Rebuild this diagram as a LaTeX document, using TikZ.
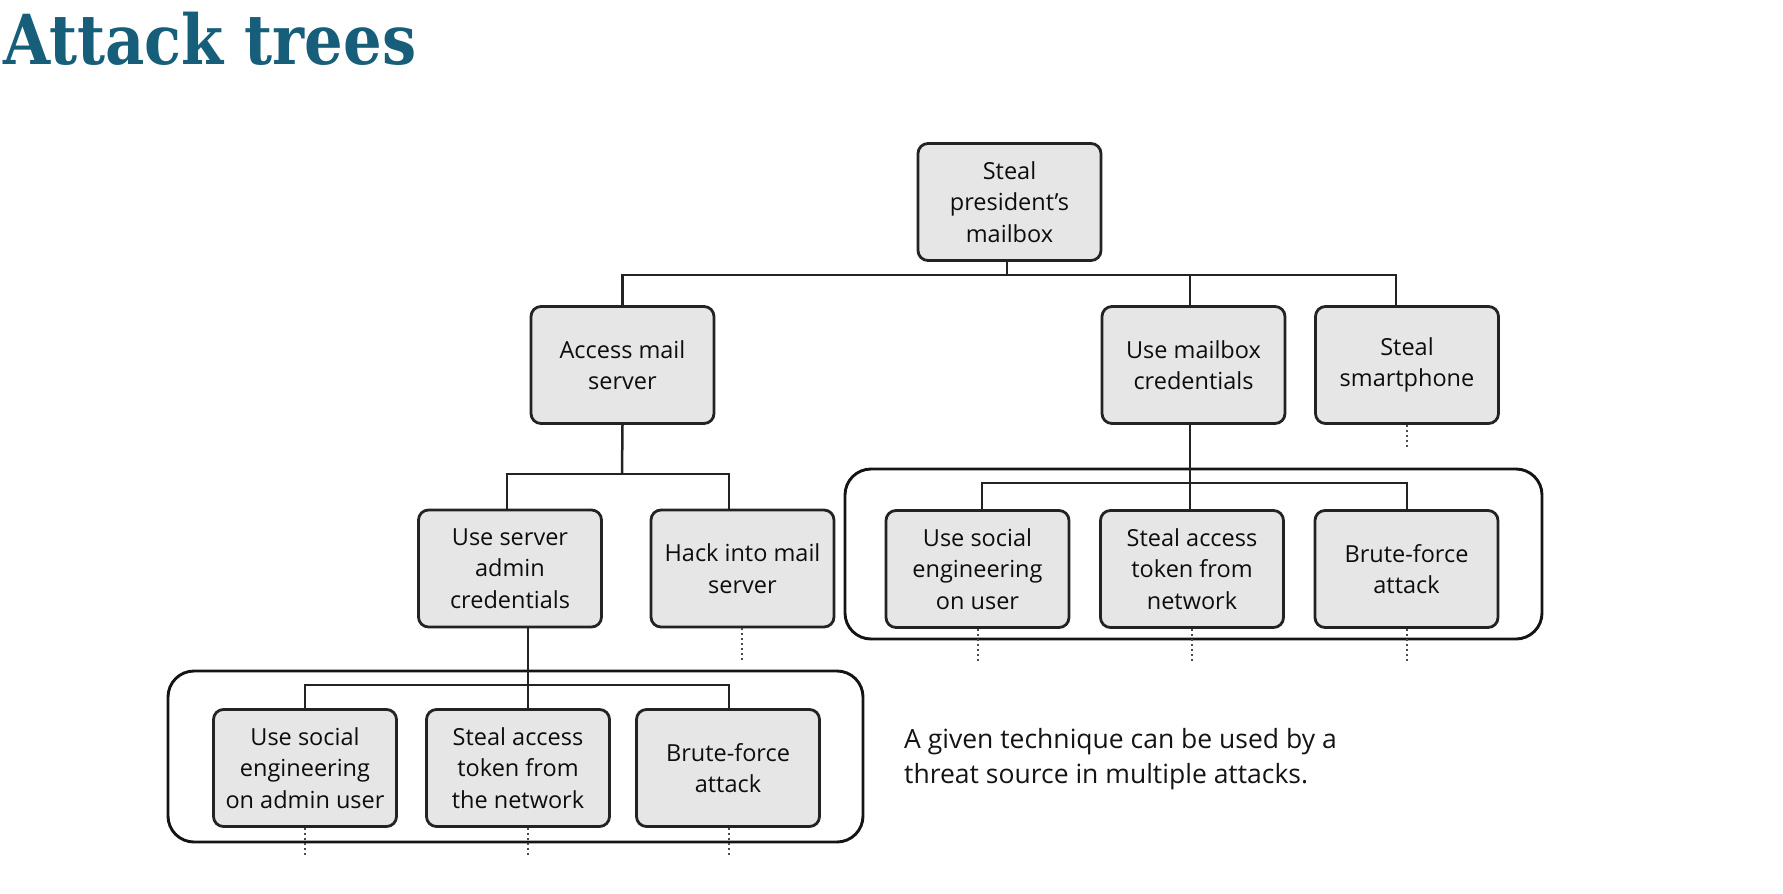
\documentclass[tikz,border=0pt]{standalone}
\usepackage{fontspec}
\setmainfont{Open Sans}
\newfontfamily\titlefont{DejaVu Serif}
\definecolor{titleteal}{RGB}{22,94,122}
\definecolor{boxfill}{RGB}{230,230,231}
\definecolor{ink}{RGB}{35,35,35}
\tikzset{
  tbox/.style={draw=ink, fill=boxfill, line width=2.8pt, rounded corners=10pt,
    minimum width=183pt, minimum height=117pt, inner sep=0pt, align=center,
    font=\fontsize{23.5}{31.5}\selectfont, text=black!95},
  conn/.style={draw=ink, line width=2.5pt},
  grp/.style={draw=black!92, line width=2.9pt, rounded corners=26pt},
  dots/.style={draw=black!70, line width=2.2pt, dash pattern=on 2pt off 3pt},
}
\begin{document}
\begin{tikzpicture}[x=1pt,y=-1pt]
\useasboundingbox[fill=white] (0,0) rectangle (1783,894);

% title
\node[anchor=base west, inner sep=0pt, text=titleteal] (title) at (3,64)
  {\scalebox{0.88}[1]{\titlefont\bfseries\fontsize{69}{80}\selectfont Attack trees}};

% group frames
\draw[grp] (168,671) rectangle (863,842);
\draw[grp] (845,469) rectangle (1542,639);

% nodes
\node[tbox] (root) at (1009.5,202) {Steal\\president’s\\mailbox};
\node[tbox] (acc)  at (622.5,365) {Access mail\\server};
\node[tbox] (umc)  at (1193.5,365) {Use mailbox\\credentials};
\node[tbox] (ssp)  at (1407,365) {Steal\\smartphone};
\node[tbox] (adm)  at (510,568.5) {Use server\\admin\\credentials};
\node[tbox] (hack) at (742.5,568.5) {Hack into mail\\server};
\node[tbox] (lsoc) at (305,768) {Use social\\engineering\\on admin user};
\node[tbox] (ltok) at (518,768) {Steal access\\token from\\the network};
\node[tbox] (lbf)  at (728,768) {Brute-force\\attack};
\node[tbox] (rsoc) at (977.5,569) {Use social\\engineering\\on user};
\node[tbox] (rtok) at (1192,569) {Steal access\\token from\\network};
\node[tbox] (rbf)  at (1406.5,569) {Brute-force\\attack};

% junction coordinates
\coordinate (j0) at (1007,275);
\coordinate (xssp) at (1396,275);
\coordinate (xumc) at (1190,275);
\coordinate (j1) at (622,474);
\coordinate (xadm) at (507,474);
\coordinate (xhack) at (729,474);
\coordinate (j2) at (528,685);
\coordinate (xlsoc) at (305,685);
\coordinate (xlbf) at (729,685);
\coordinate (j3) at (1190,483);
\coordinate (xrsoc) at (982,483);
\coordinate (xrbf) at (1407,483);

% level 1 tree
\draw[conn] (root.south -| j0) -- (j0);
\draw[conn] (acc.north) |- (xssp) -- (ssp.north -| xssp);
\draw[conn] (xumc) -- (umc.north -| xumc);

% left subtree
\draw[conn] (acc.south) -- (j1);
\draw[conn] (adm.north -| xadm) -- (xadm) -- (xhack) -- (hack.north -| xhack);
\draw[conn] (adm.south -| j2) -- (ltok.north -| j2);
\draw[conn] (lsoc.north) -- (xlsoc) -- (xlbf) -- (lbf.north -| xlbf);

% right subtree
\draw[conn] (umc.south -| j3) -- (rtok.north -| j3);
\draw[conn] (rsoc.north -| xrsoc) -- (xrsoc) -- (xrbf) -- (rbf.north -| xrbf);

% dotted continuations
\coordinate (d1) at (742,663);
\draw[dots] (hack.south -| d1) -- (d1);
\coordinate (d2) at (1407,448);
\draw[dots] (ssp.south -| d2) -- (d2);
\coordinate (d3) at (305,857);
\draw[dots] (lsoc.south -| d3) -- (d3);
\coordinate (d4) at (528,857);
\draw[dots] (ltok.south -| d4) -- (d4);
\coordinate (d5) at (729,857);
\draw[dots] (lbf.south -| d5) -- (d5);
\coordinate (d6) at (978,663);
\draw[dots] (rsoc.south -| d6) -- (d6);
\coordinate (d7) at (1192,663);
\draw[dots] (rtok.south -| d7) -- (d7);
\coordinate (d8) at (1407,663);
\draw[dots] (rbf.south -| d8) -- (d8);

% note
\node[anchor=base west, inner sep=0pt, align=left, text=black!92,
  font=\fontsize{26.5}{35}\selectfont] (note) at (904,783)
  {A given technique can be used by a\\threat source in multiple attacks.};
\end{tikzpicture}
\end{document}
